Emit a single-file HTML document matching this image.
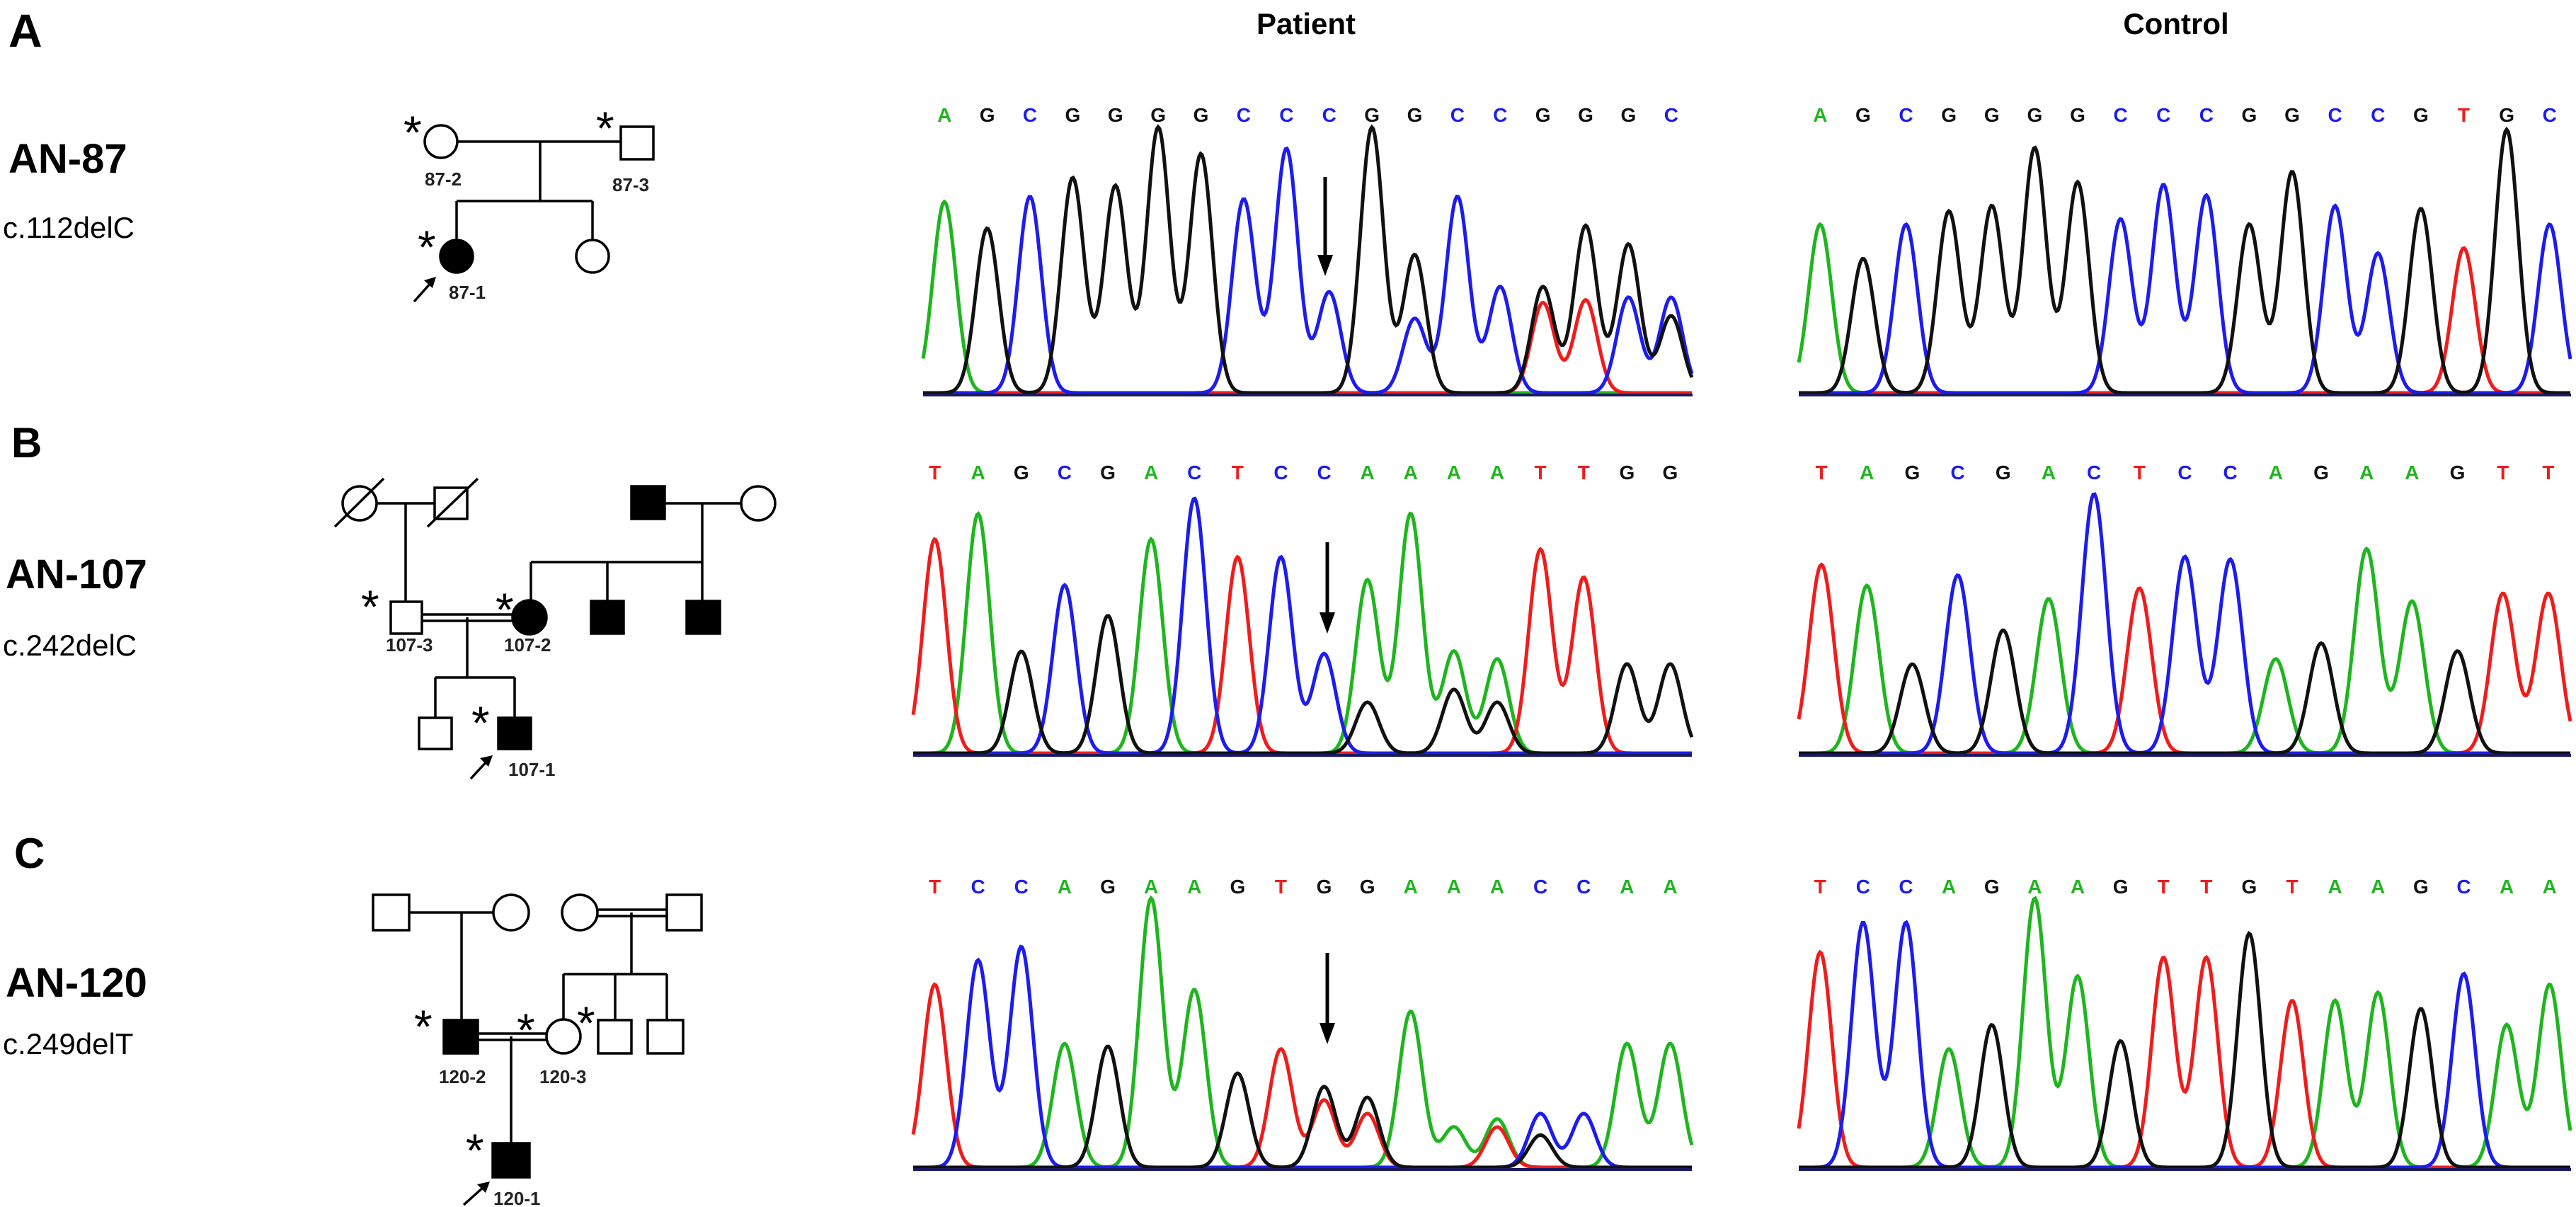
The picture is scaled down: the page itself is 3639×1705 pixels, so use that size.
<!DOCTYPE html>
<html><head><meta charset="utf-8"><style>
html,body{margin:0;padding:0;background:#fff;}
svg{display:block;}
.lbl{font-family:"Liberation Sans",sans-serif;font-weight:bold;fill:#000;}
.mut{font-family:"Liberation Sans",sans-serif;fill:#000;}
.id{font-family:"Liberation Sans",sans-serif;font-weight:bold;font-size:26px;fill:#222;}
.ast{font-family:"Liberation Sans",sans-serif;font-size:66px;fill:#000;}
.ped line,.ped rect,.ped circle{stroke:#000;stroke-width:3.5;}
</style></head><body>
<svg id="fig" xmlns="http://www.w3.org/2000/svg" width="3639" height="1705" viewBox="0 0 3639 1705">
<rect width="3639" height="1705" fill="#fff"/>
<text class="lbl" x="1845" y="48" font-size="42" text-anchor="middle">Patient</text>
<text class="lbl" x="3074" y="48" font-size="42" text-anchor="middle">Control</text>

<text class="lbl" x="12" y="66" font-size="66">A</text>
<text class="lbl" x="12" y="244" font-size="58">AN-87</text>
<text class="mut" x="4" y="336" font-size="42">c.112delC</text>
<text class="lbl" x="16" y="646" font-size="60">B</text>
<text class="lbl" x="8" y="831" font-size="58">AN-107</text>
<text class="mut" x="4" y="926" font-size="42">c.242delC</text>
<text class="lbl" x="20" y="1226" font-size="60">C</text>
<text class="lbl" x="8" y="1408" font-size="58">AN-120</text>
<text class="mut" x="4" y="1489" font-size="42">c.249delT</text>

<!-- Pedigree A -->
<g class="ped" fill="none">
<line x1="646" y1="200" x2="877" y2="200"/>
<line x1="763" y1="200" x2="763" y2="284"/>
<line x1="645" y1="284" x2="837" y2="284"/>
<line x1="645" y1="284" x2="645" y2="339"/>
<line x1="837" y1="284" x2="837" y2="339"/>
<circle cx="623" cy="200" r="23" fill="#fff"/>
<rect x="877" y="179" width="46" height="46" fill="#fff"/>
<circle cx="645" cy="362" r="23" fill="#000"/>
<circle cx="837" cy="362" r="23" fill="#fff"/>
<line x1="585" y1="426" x2="610" y2="398" stroke-width="5"/>
</g>
<polygon points="616,391 599,396 611,407" fill="#000"/>
<text class="id" x="600" y="262">87-2</text>
<text class="id" x="865" y="270">87-3</text>
<text class="id" x="634" y="422">87-1</text>
<text class="ast" x="570" y="210">*</text>
<text class="ast" x="842" y="204">*</text>
<text class="ast" x="590" y="372">*</text>

<!-- Pedigree B -->
<g class="ped" fill="none">
<line x1="532" y1="711" x2="614" y2="711"/>
<line x1="573" y1="711" x2="573" y2="850"/>
<line x1="940" y1="711" x2="1047" y2="711"/>
<line x1="992" y1="711" x2="992" y2="848"/>
<line x1="750" y1="794" x2="992" y2="794"/>
<line x1="750" y1="794" x2="750" y2="848"/>
<line x1="858" y1="794" x2="858" y2="848"/>
<line x1="595" y1="868" x2="726" y2="868"/>
<line x1="595" y1="877" x2="726" y2="877"/>
<line x1="660" y1="872" x2="660" y2="957"/>
<line x1="615" y1="957" x2="727" y2="957"/>
<line x1="615" y1="957" x2="615" y2="1014"/>
<line x1="727" y1="957" x2="727" y2="1014"/>
<circle cx="508" cy="711" r="24" fill="#fff"/>
<line x1="473" y1="744" x2="542" y2="676"/>
<rect x="614" y="689" width="46" height="44" fill="#fff"/>
<line x1="604" y1="744" x2="675" y2="676"/>
<rect x="892" y="687" width="47" height="46" fill="#000"/>
<circle cx="1071" cy="711" r="24" fill="#fff"/>
<rect x="552" y="850" width="44" height="45" fill="#fff"/>
<circle cx="748" cy="872" r="24" fill="#000"/>
<rect x="835" y="849" width="46" height="46" fill="#000"/>
<rect x="970" y="849" width="47" height="46" fill="#000"/>
<rect x="592" y="1014" width="46" height="44" fill="#fff"/>
<rect x="704" y="1014" width="46" height="44" fill="#000"/>
<line x1="665" y1="1100" x2="689" y2="1074" stroke-width="5"/>
</g>
<polygon points="696,1067 678,1071 690,1083" fill="#000"/>
<text class="id" x="545" y="920">107-3</text>
<text class="id" x="712" y="920">107-2</text>
<text class="id" x="718" y="1096">107-1</text>
<text class="ast" x="510" y="880">*</text>
<text class="ast" x="700" y="884">*</text>
<text class="ast" x="666" y="1044">*</text>

<!-- Pedigree C -->
<g class="ped" fill="none">
<line x1="578" y1="1289" x2="697" y2="1289"/>
<line x1="652" y1="1289" x2="652" y2="1441"/>
<line x1="844" y1="1285" x2="942" y2="1285"/>
<line x1="844" y1="1294" x2="942" y2="1294"/>
<line x1="892" y1="1289" x2="892" y2="1376"/>
<line x1="796" y1="1376" x2="942" y2="1376"/>
<line x1="796" y1="1376" x2="796" y2="1440"/>
<line x1="869" y1="1376" x2="869" y2="1441"/>
<line x1="942" y1="1376" x2="942" y2="1441"/>
<line x1="675" y1="1460" x2="772" y2="1460"/>
<line x1="675" y1="1469" x2="772" y2="1469"/>
<line x1="722" y1="1464" x2="722" y2="1615"/>
<rect x="527" y="1264" width="51" height="50" fill="#fff"/>
<circle cx="722" cy="1289" r="25" fill="#fff"/>
<circle cx="819" cy="1289" r="25" fill="#fff"/>
<rect x="942" y="1264" width="49" height="50" fill="#fff"/>
<rect x="627" y="1441" width="48" height="47" fill="#000"/>
<circle cx="796" cy="1464" r="24" fill="#fff"/>
<rect x="845" y="1441" width="47" height="47" fill="#fff"/>
<rect x="915" y="1441" width="50" height="47" fill="#fff"/>
<rect x="696" y="1615" width="52" height="48" fill="#000"/>
<line x1="655" y1="1702" x2="684" y2="1676" stroke-width="5"/>
</g>
<polygon points="692,1669 674,1673 686,1685" fill="#000"/>
<text class="id" x="620" y="1530">120-2</text>
<text class="id" x="762" y="1530">120-3</text>
<text class="id" x="697" y="1702">120-1</text>
<text class="ast" x="585" y="1473">*</text>
<text class="ast" x="730" y="1478">*</text>
<text class="ast" x="815" y="1468">*</text>
<text class="ast" x="658" y="1648">*</text>

<g id="chroms"></g>
</svg>
<script>
// Panel A patient
const seqAP = "AGCGGGGCCCGGCCGGGC";
const hAP = [.72,.62,.74,.81,.78,1,.9,.73,.92,.38,1,.52,.74,.4,.4,.63,.56,.36];
const secIdxAP = [11,14,15,16,17];
const secBaseAP = ["C","T","T","C","G"];
const secHAP = [.28,.34,.35,.36,.29];
// Panel A control
const seqAC = "AGCGGGGCCCGGCCGTGC";
const hAC = [.64,.51,.64,.69,.71,.93,.8,.66,.79,.75,.64,.84,.71,.53,.7,.55,1,.64];
// Panel B patient
const seqBP = "TAGCGACTCCAAAATTGG";
const hBP = [.84,.94,.4,.66,.54,.84,1,.77,.77,.39,.68,.94,.4,.37,.8,.39,.35,.35];
const secIdxBP = [10,12,13,15];
const secBaseBP = ["G","G","G","T"];
const secHBP = [.2,.25,.2,.3];
// Panel B control
const seqBC = "TAGCGACTCCAGAAGTT";
const hBC = [.72,.64,.34,.68,.47,.59,.99,.63,.75,.74,.36,.42,.78,.58,.39,.61,.61];
// Panel C patient
const seqCP = "TCCAGAAGTGGAAACCAA";
const hCP = [.68,.77,.82,.46,.45,1,.66,.35,.44,.3,.26,.58,.15,.18,.2,.2,.46,.46];
const secIdxCP = [9,10,13,14];
const secBaseCP = ["T","T","T","G"];
const secHCP = [.25,.2,.15,.12];
// Panel C control
const seqCC = "TCCAGAAGTTGTAAGCAA";
const hCC = [.8,.91,.91,.44,.53,1,.71,.47,.78,.78,.87,.62,.62,.65,.59,.72,.53,.68];

const COL = {A:"#1fb51f", C:"#1c1cf0", G:"#111111", T:"#f01c1c"};
const NS = "http://www.w3.org/2000/svg";
const root = document.getElementById("chroms");

function drawPanel(name, x0, x1, base, letterY, maxH, seq, h, sIdx, sBase, sH) {
  const g = document.createElementNS(NS, "g");
  
  
  root.appendChild(g);
  const n = seq.length, sp = (x1 - x0) / n, sig = sp * 0.27;
  const peaks = {A:[],C:[],G:[],T:[]};
  for (let i = 0; i < n; i++) peaks[seq[i]].push([x0 + (i + 0.5) * sp, h[i]]);
  if (sIdx) for (let k = 0; k < sIdx.length; k++) peaks[sBase[k]].push([x0 + (sIdx[k] + 0.5) * sp, sH[k]]);
  ["A","T","C","G"].forEach(b => {
    let d = "";
    for (let x = x0; x <= x1; x += 2) {
      let v = 0;
      peaks[b].forEach(p => { const t = (x - p[0]) / sig; v += p[1] * Math.exp(-0.5 * t * t); });
      const y = base - 3 - v * maxH;
      d += (d ? "L" : "M") + x.toFixed(1) + "," + y.toFixed(1);
    }
    const path = document.createElementNS(NS, "path");
    
    
    path.setAttribute("d", d);
    path.setAttribute("fill", "none");
    path.setAttribute("stroke", COL[b]);
    path.setAttribute("stroke-width", "5");
    g.appendChild(path);
  });
  const bl = document.createElementNS(NS, "line");
  
  
  bl.setAttribute("x1", x0); bl.setAttribute("x2", x1);
  bl.setAttribute("y1", base); bl.setAttribute("y2", base);
  bl.setAttribute("stroke", "#1a1a60"); bl.setAttribute("stroke-width", "4");
  g.appendChild(bl);
  for (let i = 0; i < n; i++) {
    const t = document.createElementNS(NS, "text");
    
    
    t.setAttribute("x", x0 + (i + 0.5) * sp);
    t.setAttribute("y", letterY);
    t.setAttribute("text-anchor", "middle");
    t.setAttribute("font-family", "Liberation Sans, sans-serif");
    t.setAttribute("font-weight", "bold");
    t.setAttribute("font-size", "28");
    t.setAttribute("fill", COL[seq[i]]);
    t.textContent = seq[i];
    g.appendChild(t);
  }
}
function arrow(name, x, y1, y2) {
  const g = document.createElementNS(NS, "g");
  
  
  g.innerHTML = '<line x1="'+x+'" y1="'+y1+'" x2="'+x+'" y2="'+(y2-25)+'" stroke="#000" stroke-width="5"/>' +
    '<polygon points="'+(x-11)+','+(y2-30)+' '+(x+11)+','+(y2-30)+' '+x+','+y2+'" fill="#000"/>';
  root.appendChild(g);
}
drawPanel("patient-chromatogram-a", 1304, 2391, 558, 172, 375, seqAP, hAP, secIdxAP, secBaseAP, secHAP);
drawPanel("control-chromatogram-a", 2541, 3632, 558, 172, 372, seqAC, hAC);
drawPanel("patient-chromatogram-b", 1290, 2390, 1067, 677, 360, seqBP, hBP, secIdxBP, secBaseBP, secHBP);
drawPanel("control-chromatogram-b", 2541, 3632, 1067, 677, 370, seqBC, hBC);
drawPanel("patient-chromatogram-c", 1290, 2390, 1652, 1262, 380, seqCP, hCP, secIdxCP, secBaseCP, secHCP);
drawPanel("control-chromatogram-c", 2541, 3632, 1652, 1262, 380, seqCC, hCC);
arrow("mutation-arrow-a", 1872, 250, 390);
arrow("mutation-arrow-b", 1875, 766, 895);
arrow("mutation-arrow-c", 1875, 1346, 1475);
</script>
</body></html>
